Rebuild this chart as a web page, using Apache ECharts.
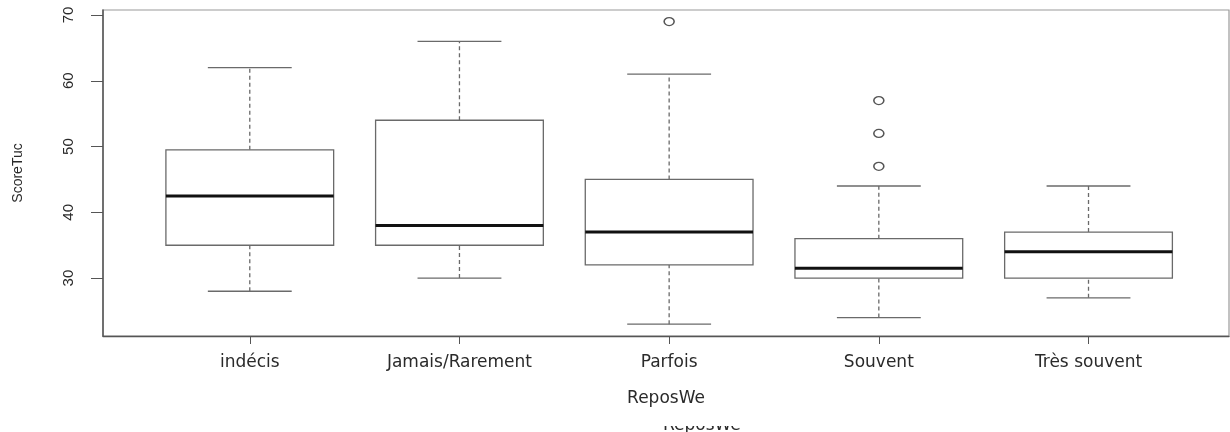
<!DOCTYPE html>
<html>
<head>
<meta charset="utf-8">
<script src="https://cdn.jsdelivr.net/npm/echarts@6/dist/echarts.min.js"></script>
<style>html,body{margin:0;padding:0;background:#fff}#c{width:1230px;height:432px}</style>
</head>
<body>
<div id="c"></div>
<script>
const categories = ['indécis', 'Jamais/Rarement', 'Parfois', 'Souvent', 'Très souvent'];
const whiskerLow = [28, 30, 23, 24, 27];
const q1 = [35, 35, 32, 30, 30];
const median = [42.5, 38, 37, 31.5, 34];
const q3 = [49.5, 54, 45, 36, 37];
const whiskerHigh = [62, 66, 61, 44, 44];
const outlierCategory = ['Parfois', 'Souvent', 'Souvent', 'Souvent'];
const outlierValue = [69, 57, 52, 47];
const yTicks = [30, 40, 50, 60, 70];
const xTitle = 'ReposWe';
const yTitle = 'ScoreTuc';

const boxData = categories.map((c, i) => [i + 1, whiskerLow[i], q1[i], median[i], q3[i], whiskerHigh[i]]);
const outData = outlierCategory.map((c, i) => [categories.indexOf(c) + 1, outlierValue[i]]);

const txt = '#2a2a2a';
const font = 'DejaVu Sans';

function renderBox(params, api) {
  const x = api.value(0);
  const lo = api.coord([x, api.value(1)]);
  const b1 = api.coord([x, api.value(2)]);
  const md = api.coord([x, api.value(3)]);
  const b3 = api.coord([x, api.value(4)]);
  const hi = api.coord([x, api.value(5)]);
  const w = api.size([0.8, 0])[0];
  const cw = api.size([0.4, 0])[0];
  const cx = lo[0];
  const grey = '#6a6a6a';
  const dash = {stroke: grey, lineWidth: 1.3, lineDash: [4, 3]};
  const solid = {stroke: grey, lineWidth: 1.3};
  return {
    type: 'group',
    children: [
      {type: 'line', shape: {x1: cx, y1: b3[1], x2: cx, y2: hi[1]}, style: dash},
      {type: 'line', shape: {x1: cx, y1: lo[1], x2: cx, y2: b1[1]}, style: dash},
      {type: 'line', shape: {x1: cx - cw / 2, y1: hi[1], x2: cx + cw / 2, y2: hi[1]}, style: solid},
      {type: 'line', shape: {x1: cx - cw / 2, y1: lo[1], x2: cx + cw / 2, y2: lo[1]}, style: solid},
      {type: 'rect', shape: {x: cx - w / 2, y: b3[1], width: w, height: b1[1] - b3[1]}, style: {fill: '#fff', stroke: grey, lineWidth: 1.3}},
      {type: 'line', shape: {x1: cx - w / 2, y1: md[1], x2: cx + w / 2, y2: md[1]}, style: {stroke: '#111', lineWidth: 3}}
    ]
  };
}

const chart = echarts.init(document.getElementById('c'), null, {renderer: 'canvas'});
chart.setOption({
  backgroundColor: '#fff',
  animation: false,
  grid: {left: 103, right: 1, top: 10, bottom: 96, show: true, borderColor: '#9a9a9a', borderWidth: 1.2, backgroundColor: 'transparent'},
  xAxis: {
    type: 'value', min: 0.3, max: 5.67,
    name: xTitle, nameLocation: 'middle', nameGap: 54,
    nameTextStyle: {fontFamily: font, fontSize: 17, color: txt},
    splitLine: {show: false},
    axisLine: {show: true, lineStyle: {color: '#555', width: 1.3}},
    axisTick: {show: true, length: 8, lineStyle: {color: '#555'}, customValues: [1, 2, 3, 4, 5]},
    axisLabel: {customValues: [1, 2, 3, 4, 5], margin: 18, fontFamily: font, fontSize: 17, color: txt,
      formatter: v => categories[Math.round(v) - 1] || ''}
  },
  yAxis: {
    type: 'value', min: 21.2, max: 70.76,
    name: yTitle, nameLocation: 'middle', nameGap: 78, nameRotate: 90,
    nameTextStyle: {fontFamily: 'Liberation Sans', fontSize: 14, color: txt},
    splitLine: {show: false},
    axisLine: {show: true, lineStyle: {color: '#555', width: 1.5}},
    axisTick: {show: true, length: 12, lineStyle: {color: '#555'}, customValues: yTicks},
    axisLabel: {customValues: yTicks, rotate: 90, margin: 27, fontFamily: 'Liberation Sans', fontSize: 15, color: txt}
  },
  series: [
    {type: 'custom', renderItem: renderBox, data: boxData, encode: {x: 0, y: [1, 2, 3, 4, 5]}, clip: false, z: 2},
    {type: 'scatter', data: outData, symbol: 'circle', symbolSize: [10, 8], z: 5,
      itemStyle: {color: '#fff', borderColor: '#555', borderWidth: 1.4, opacity: 1}}
  ],
  graphic: [
    {type: 'text', left: 663, top: 417, z: 10, style: {text: xTitle, font: '17px "DejaVu Sans"', fill: txt}},
    {type: 'rect', z: 11, shape: {x: 600, y: 411, width: 200, height: 15}, style: {fill: '#fff'}}
  ]
});
</script>
</body>
</html>
